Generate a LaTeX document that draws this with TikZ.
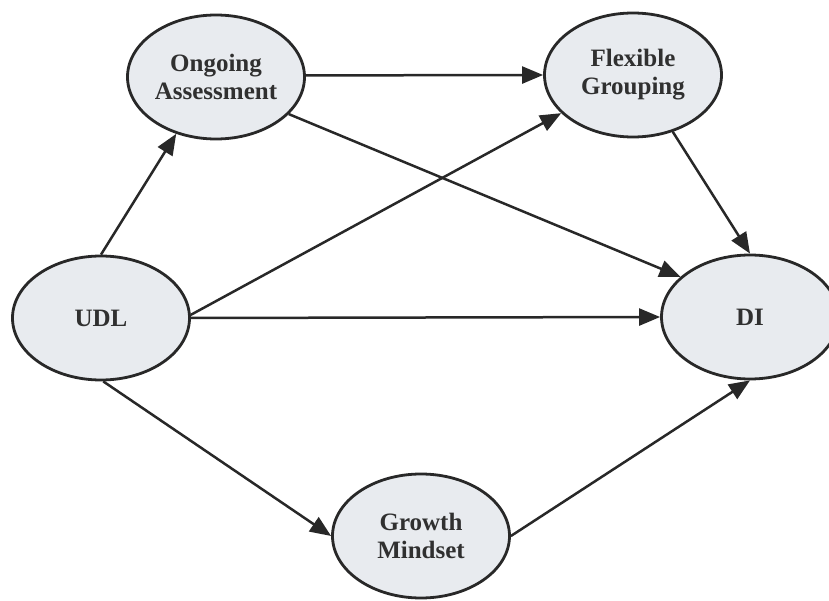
\documentclass[tikz,border=0pt]{standalone}
\usepackage{fontspec}
\setmainfont{Liberation Serif}
\usetikzlibrary{shapes.geometric,arrows.meta}
\definecolor{nodefill}{RGB}{232,235,239}
\definecolor{ink}{RGB}{40,40,40}
\definecolor{txt}{RGB}{48,48,48}
\begin{document}
\begin{tikzpicture}[x=1pt,y=-1pt,
  concept/.style={ellipse,draw=ink,line width=2.8pt,fill=nodefill,minimum width=177pt,minimum height=124pt,inner sep=0pt,align=center,font=\fontsize{25}{28}\selectfont\bfseries,text=txt},
  link/.style={draw=ink,line width=2.5pt,-{Triangle[length=21pt,width=17pt]}}]
\useasboundingbox (0,0) rectangle (829,601);
\node[concept] (oa) at (216,77) {Ongoing\\Assessment};
\node[concept] (fg) at (633,75) {Flexible\\Grouping};
\node[concept] (udl) at (101,318) {UDL};
\node[concept] (di) at (750,317) {DI};
\node[concept] (gm) at (421,536) {Growth\\Mindset};
\draw[link] (udl.90) -- (oa.-125);
\draw[link] (oa.1) -- (fg.180);
\draw[link] (oa.-27) -- (di.150);
\draw[link] (udl.2) -- (fg.208);
\draw[link] (udl.0) -- (di.180);
\draw[link] (udl.-88) -- (gm.180);
\draw[link] (fg.-55) -- (di.90);
\draw[link] (gm.0) -- (di.-90);
\end{tikzpicture}
\end{document}
